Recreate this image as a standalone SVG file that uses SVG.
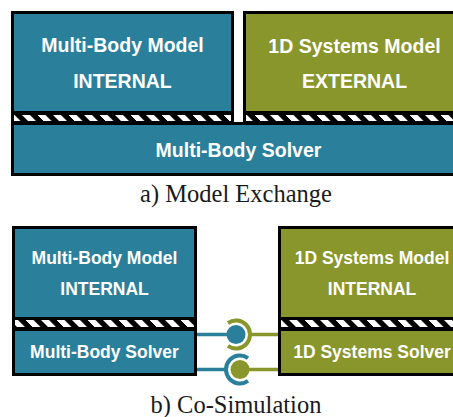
<svg xmlns="http://www.w3.org/2000/svg" width="453" height="417" viewBox="0 0 453 417">
  <defs>
    <!-- black band with white diagonal stripes between model and solver -->
    <pattern id="hatch" patternUnits="userSpaceOnUse" width="15.5" height="8" patternTransform="skewX(45)">
      <rect x="0" y="0" width="15.5" height="8" fill="#000"/>
      <rect x="0" y="0" width="8" height="8" fill="#fff"/>
    </pattern>
  </defs>
  <style>
    .edge { fill: #000; }
    .mb { fill: #2a809b; }
    .sys { fill: #88962b; }
    .hatch { fill: url(#hatch); }
    .lbl { font-family: "Liberation Sans", Arial, sans-serif; font-weight: bold; fill: #fff; text-anchor: middle; }
    .big { font-size: 19.5px; }
    .small { font-size: 17.5px; }
    .cap { font-family: "Liberation Serif", "Times New Roman", serif; font-size: 24.5px; fill: #1a1a1a; text-anchor: middle; }
    .wire { fill: none; stroke-width: 3.5; }
    .socket { fill: none; stroke-width: 4; }
    .blueS { stroke: #2a809b; }
    .greenS { stroke: #88962b; }
  </style>

  <rect width="453" height="417" fill="#fff"/>

  <!-- a) Model Exchange -->
  <g id="mbModelA">
    <rect class="edge" x="11" y="11" width="223" height="112"/>
    <rect class="mb" x="14" y="14" width="217" height="97"/>
    <rect class="hatch" x="14" y="115" width="217" height="6"/>
    <text class="lbl big" x="122.5" y="52">Multi-Body Model</text>
    <text class="lbl big" x="122.5" y="88">INTERNAL</text>
  </g>
  <g id="sysModelA">
    <rect class="edge" x="243" y="11" width="223" height="112"/>
    <rect class="sys" x="246" y="14" width="217" height="97"/>
    <rect class="hatch" x="246" y="115" width="217" height="6"/>
    <text class="lbl big" x="354.5" y="52.5">1D Systems Model</text>
    <text class="lbl big" x="354.5" y="88">EXTERNAL</text>
  </g>
  <g id="mbSolverA">
    <rect class="edge" x="11" y="122" width="455" height="54"/>
    <rect class="mb" x="14" y="125" width="449" height="48"/>
    <text class="lbl big" x="238.5" y="157">Multi-Body Solver</text>
  </g>
  <text class="cap" x="236" y="202">a) Model Exchange</text>

  <!-- b) Co-Simulation -->
  <g id="mbModelB">
    <rect class="edge" x="12" y="226" width="185" height="103"/>
    <rect class="mb" x="15" y="229" width="179" height="88"/>
    <rect class="hatch" x="15" y="320" width="179" height="7"/>
    <text class="lbl small" x="104.5" y="264">Multi-Body Model</text>
    <text class="lbl small" x="104.5" y="295">INTERNAL</text>
  </g>
  <g id="mbSolverB">
    <rect class="edge" x="12" y="328" width="185" height="48"/>
    <rect class="mb" x="15" y="331" width="179" height="42"/>
    <text class="lbl small" x="104.5" y="358">Multi-Body Solver</text>
  </g>
  <g id="sysModelB">
    <rect class="edge" x="278" y="226" width="188" height="103"/>
    <rect class="sys" x="281" y="229" width="182" height="88"/>
    <rect class="hatch" x="281" y="320" width="182" height="7"/>
    <text class="lbl small" x="372" y="263.5">1D Systems Model</text>
    <text class="lbl small" x="372" y="294.5">INTERNAL</text>
  </g>
  <g id="sysSolverB">
    <rect class="edge" x="278" y="328" width="188" height="48"/>
    <rect class="sys" x="281" y="331" width="182" height="42"/>
    <text class="lbl small" x="372" y="358">1D Systems Solver</text>
  </g>

  <!-- ball-and-socket couplings between the two solvers -->
  <g id="connectors">
    <path class="wire blueS" d="M197 334.5 H236"/>
    <path class="wire greenS" d="M250 334.5 H278"/>
    <path class="socket greenS" d="M227.97 323.03 A14 14 0 1 1 227.97 345.97"/>
    <circle cx="236" cy="334.5" r="9.5" fill="#2a809b"/>

    <path class="wire blueS" d="M197 369.5 H226"/>
    <path class="wire greenS" d="M240 369.5 H278"/>
    <path class="socket blueS" d="M248.03 358.03 A14 14 0 1 0 248.03 380.97"/>
    <circle cx="240" cy="369.5" r="9.5" fill="#88962b"/>
  </g>
  <text class="cap" x="236" y="413">b) Co-Simulation</text>
</svg>
